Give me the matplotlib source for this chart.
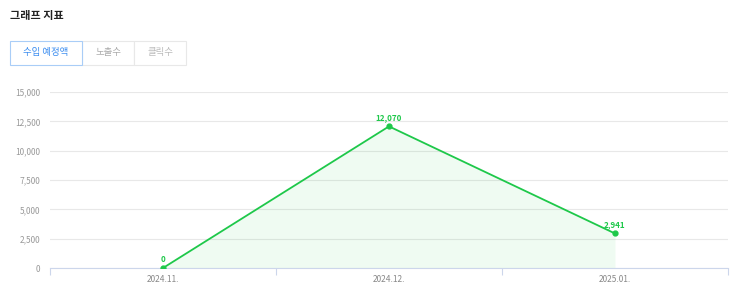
import matplotlib
matplotlib.use("Agg")
import matplotlib.pyplot as plt
from matplotlib.patches import Rectangle
from matplotlib.ticker import FuncFormatter, FixedLocator

plt.rcParams['font.family'] = ['Noto Sans CJK KR', 'DejaVu Sans']

categories = ["2024.11.", "2024.12.", "2025.01."]
values = [0, 12070, 2941]
yticks = [0, 2500, 5000, 7500, 10000, 12500, 15000]
tabs = ["수입 예정액", "노출수", "클릭수"]
title = "그래프 지표"

W, H = 743, 297
fig = plt.figure(figsize=(W / 100, H / 100), dpi=100)

def fx(px):
    return px / W

def fy(py):
    return 1 - py / H

# title
fig.text(fx(10), fy(16), title, fontsize=8, fontweight='bold', color='#222222', va='center', ha='left')

# tabs
tab_x = [10, 82, 134, 186]
tab_colors = ['#3d8ef0', '#aaaaaa', '#bbbbbb']
for i, t in enumerate(tabs):
    x0, x1 = tab_x[i], tab_x[i + 1]
    ec = '#a9cdf7' if i == 0 else '#e8e8e8'
    rect = Rectangle((fx(x0), fy(65)), fx(x1 - x0), (65 - 41) / H, transform=fig.transFigure,
                     facecolor='white', edgecolor=ec, linewidth=0.8, zorder=2 if i == 0 else 1)
    fig.patches.append(rect)
    fig.text(fx((x0 + x1) / 2), fy(53), t, fontsize=6.8, color=tab_colors[i], ha='center', va='center')

# axes
ax = fig.add_axes([fx(50), fy(268), fx(728 - 50), (268 - 92) / H])
x = list(range(len(categories)))
ax.fill_between(x, values, 0, color='#1ec84a', alpha=0.07, linewidth=0)
ax.plot(x, values, color='#1ec84a', linewidth=1.3, marker='o', markersize=3.5, zorder=3)
for xi, v in zip(x, values):
    ax.annotate(f"{v:,}", (xi, v), xytext=(0, 3), textcoords='offset points', ha='center', va='bottom',
                fontsize=5.8, fontweight='bold', color='#1ec84a')

ax.set_xlim(-0.5, len(categories) - 0.5)
ax.set_ylim(0, 15000)
ax.set_yticks(yticks)
ax.yaxis.set_major_formatter(FuncFormatter(lambda v, p: f"{int(v):,}"))
ax.set_xticks(x)
ax.set_xticklabels(categories)
ax.xaxis.set_minor_locator(FixedLocator([i - 0.5 for i in range(len(categories) + 1)]))
ax.tick_params(axis='x', which='major', length=0, labelsize=6, colors='#888888', pad=5)
ax.tick_params(axis='x', which='minor', length=5, width=0.8, color='#ccd6eb')
ax.tick_params(axis='y', length=0, labelsize=6, colors='#999999', pad=7)
ax.grid(axis='y', color='#e8e8e8', linewidth=0.8)
ax.set_axisbelow(True)
for s in ['top', 'left', 'right']:
    ax.spines[s].set_visible(False)
ax.spines['bottom'].set_color('#ccd6eb')
ax.spines['bottom'].set_linewidth(0.8)

fig.savefig("out.png", dpi=100)
